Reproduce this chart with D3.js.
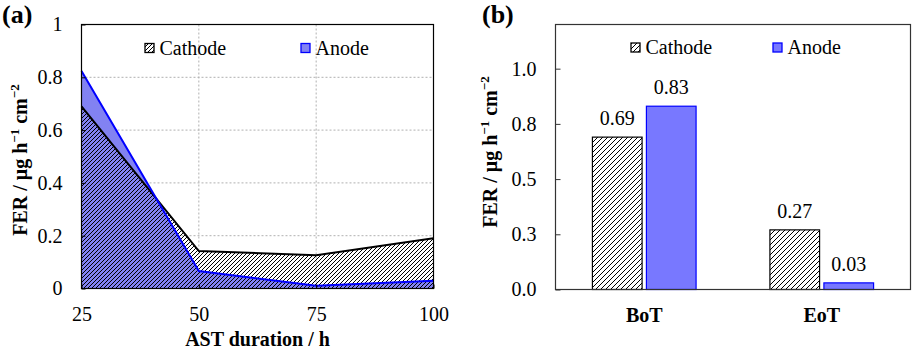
<!DOCTYPE html>
<html>
<head>
<meta charset="utf-8">
<script src="https://cdn.jsdelivr.net/npm/d3@7"></script>
<style>
  body { margin: 0; background: #fff; }
</style>
</head>
<body>
<div id="chart"></div>
<script>
// panel (a) - FER vs AST duration
const hoursA = [25, 50, 75, 100];
const cathodeA = [0.69, 0.142, 0.126, 0.19];
const anodeA = [0.824, 0.066, 0.01, 0.029];
const yTicksA = [0, 0.2, 0.4, 0.6, 0.8, 1];

// panel (b) - BoT / EoT bars
const stagesB = ["BoT", "EoT"];
const seriesB = ["Cathode", "Anode"];
const cathodeB = [0.69, 0.27];
const anodeB = [0.83, 0.03];
const yTicksB = [0, 0.25, 0.5, 0.75, 1.0];

const W = 913, H = 350;
const FONT = "Liberation Serif";
const blueFill = "#8282f2", barBlue = "#7878ff", blueLine = "#0000ff";

const svg = d3.select("#chart").append("svg")
    .attr("width", W)
    .attr("height", H)
    .attr("font-family", FONT);

// hatch patterns
const defs = svg.append("defs");
function hatch(id, size) {
    defs.append("pattern")
        .attr("id", id)
        .attr("patternUnits", "userSpaceOnUse")
        .attr("width", size)
        .attr("height", size)
      .append("path")
        .attr("d", `M${-1},1 l2,-2 M0,${size} l${size},${-size} M${size - 1},${size + 1} l2,-2`)
        .attr("stroke", "#000")
        .attr("stroke-width", 1);
}
hatch("hatchA", 4);
hatch("hatchB", 5);

// y axis title with superscripts
function yTitle(g, x, y) {
    const t = g.append("text")
        .attr("transform", `translate(${x},${y}) rotate(-90)`)
        .attr("text-anchor", "middle")
        .attr("font-family", FONT)
        .attr("font-size", 20)
        .attr("font-weight", "bold");
    t.append("tspan").text("FER / μg h");
    t.append("tspan").attr("dy", -8).attr("font-size", 13).text("−1");
    t.append("tspan").attr("dy", 8).text(" cm");
    t.append("tspan").attr("dy", -8).attr("font-size", 13).text("−2");
}

// legend item
function legendItem(g, x, y, fill, stroke, label) {
    g.append("rect")
        .attr("x", x - 4.5).attr("y", y - 4.5)
        .attr("width", 9).attr("height", 9)
        .attr("fill", fill)
        .attr("stroke", stroke)
        .attr("stroke-width", 1.3);
    g.append("text")
        .attr("x", x + 10).attr("y", y + 6.5)
        .attr("font-family", FONT)
        .attr("font-size", 20)
        .text(label);
}

function styleAxis(a, tickColor) {
    a.attr("font-family", FONT).attr("font-size", 20);
    a.select(".domain").remove();
    a.selectAll("text").attr("fill", "#000");
    a.selectAll(".tick line").attr("stroke", tickColor);
}

// ---------- panel (a) ----------
{
    const m = { left: 81.5, right: 433.5, top: 24.5, bottom: 288.5 };
    const g = svg.append("g");

    const x = d3.scaleLinear().domain([25, 100]).range([m.left, m.right]);
    const y = d3.scaleLinear().domain([0, 1]).range([m.bottom, m.top]);

    // grid
    g.append("g").selectAll("line")
        .data(yTicksA.filter(d => d > 0 && d < 1))
        .join("line")
        .attr("x1", m.left).attr("x2", m.right)
        .attr("y1", d => y(d)).attr("y2", d => y(d))
        .attr("stroke", "#b0b0b0").attr("stroke-dasharray", "2,2");
    g.append("g").selectAll("line")
        .data(hoursA.filter(d => d > 25 && d < 100))
        .join("line")
        .attr("y1", m.top).attr("y2", m.bottom)
        .attr("x1", d => x(d)).attr("x2", d => x(d))
        .attr("stroke", "#b0b0b0").attr("stroke-dasharray", "2,2");

    const anodeData = hoursA.map((h, i) => ({ h, v: anodeA[i] }));
    const cathodeData = hoursA.map((h, i) => ({ h, v: cathodeA[i] }));

    const area = d3.area().x(d => x(d.h)).y0(y(0)).y1(d => y(d.v));
    const line = d3.line().x(d => x(d.h)).y(d => y(d.v));

    g.append("path").datum(anodeData).attr("d", area).attr("fill", blueFill);
    g.append("path").datum(cathodeData).attr("d", area).attr("fill", "url(#hatchA)");
    g.append("path").datum(cathodeData).attr("d", line)
        .attr("fill", "none").attr("stroke", "#000").attr("stroke-width", 2);
    g.append("path").datum(anodeData).attr("d", line)
        .attr("fill", "none").attr("stroke", blueLine).attr("stroke-width", 2);

    // axes
    const ax = g.append("g")
        .attr("transform", `translate(0,${m.bottom})`)
        .call(d3.axisBottom(x).tickValues(hoursA).tickSizeInner(-4).tickSizeOuter(0).tickPadding(18));
    const ay = g.append("g")
        .attr("transform", `translate(${m.left},0)`)
        .call(d3.axisLeft(y).tickValues(yTicksA).tickFormat(d3.format("")).tickSizeInner(-4).tickSizeOuter(0).tickPadding(19));
    styleAxis(ax, "#000");
    styleAxis(ay, "#000");

    g.append("rect")
        .attr("x", m.left).attr("y", m.top)
        .attr("width", m.right - m.left).attr("height", m.bottom - m.top)
        .attr("fill", "none").attr("stroke", "#000").attr("stroke-width", 1.2);

    legendItem(g, 149.5, 48, "url(#hatchA)", "#000", "Cathode");
    legendItem(g, 305.5, 48, blueFill, blueLine, "Anode");

    yTitle(g, 27, 160);
    g.append("text")
        .attr("x", (m.left + m.right) / 2).attr("y", 346)
        .attr("text-anchor", "middle")
        .attr("font-family", FONT).attr("font-size", 20).attr("font-weight", "bold")
        .text("AST duration / h");

    g.append("text").attr("x", 2).attr("y", 23)
        .attr("font-family", FONT).attr("font-size", 26).attr("font-weight", "bold")
        .text("(a)");
}

// ---------- panel (b) ----------
{
    const m = { left: 555.5, right: 910.5, top: 24.5, bottom: 289.5 };
    const g = svg.append("g");

    const x0 = d3.scaleBand().domain(stagesB).range([m.left, m.right])
        .paddingInner(0.416).paddingOuter(0.208);
    const x1 = d3.scaleBand().domain(seriesB).range([0, x0.bandwidth()]).paddingInner(0.08);
    const y = d3.scaleLinear().domain([0, 1.2]).range([m.bottom, m.top]);

    const bars = stagesB.flatMap((s, i) => [
        { stage: s, series: "Cathode", v: cathodeB[i] },
        { stage: s, series: "Anode", v: anodeB[i] }
    ]);

    g.selectAll("rect.bar")
        .data(bars)
        .join("rect")
        .attr("class", "bar")
        .attr("x", d => x0(d.stage) + x1(d.series))
        .attr("y", d => y(d.v))
        .attr("width", x1.bandwidth())
        .attr("height", d => y(0) - y(d.v))
        .attr("fill", d => d.series === "Cathode" ? "url(#hatchB)" : barBlue)
        .attr("stroke", d => d.series === "Cathode" ? "#000" : blueLine)
        .attr("stroke-width", 1.2);

    g.selectAll("text.val")
        .data(bars)
        .join("text")
        .attr("class", "val")
        .attr("x", d => x0(d.stage) + x1(d.series) + x1.bandwidth() / 2)
        .attr("y", d => y(d.v) - 12)
        .attr("text-anchor", "middle")
        .attr("font-family", FONT).attr("font-size", 20)
        .text(d => d.v.toFixed(2));

    const ax = g.append("g")
        .attr("transform", `translate(0,${m.bottom})`)
        .call(d3.axisBottom(x0).tickSize(0).tickPadding(18));
    const ay = g.append("g")
        .attr("transform", `translate(${m.left},0)`)
        .call(d3.axisLeft(y).tickValues(yTicksB).tickFormat(d => (Math.round(d * 10 + 1e-9) / 10).toFixed(1)).tickSizeInner(-5).tickSizeOuter(0).tickPadding(19));
    styleAxis(ax, "#333");
    styleAxis(ay, "#333");
    ax.selectAll("text").attr("font-weight", "bold");

    g.append("rect")
        .attr("x", m.left).attr("y", m.top)
        .attr("width", m.right - m.left).attr("height", m.bottom - m.top)
        .attr("fill", "none").attr("stroke", "#333").attr("stroke-width", 1.2);

    legendItem(g, 635.5, 47.5, "url(#hatchB)", "#000", "Cathode");
    legendItem(g, 777.5, 47.5, barBlue, blueLine, "Anode");

    yTitle(g, 497, 152);

    g.append("text").attr("x", 482).attr("y", 23)
        .attr("font-family", FONT).attr("font-size", 26).attr("font-weight", "bold")
        .text("(b)");
}
</script>
</body>
</html>
